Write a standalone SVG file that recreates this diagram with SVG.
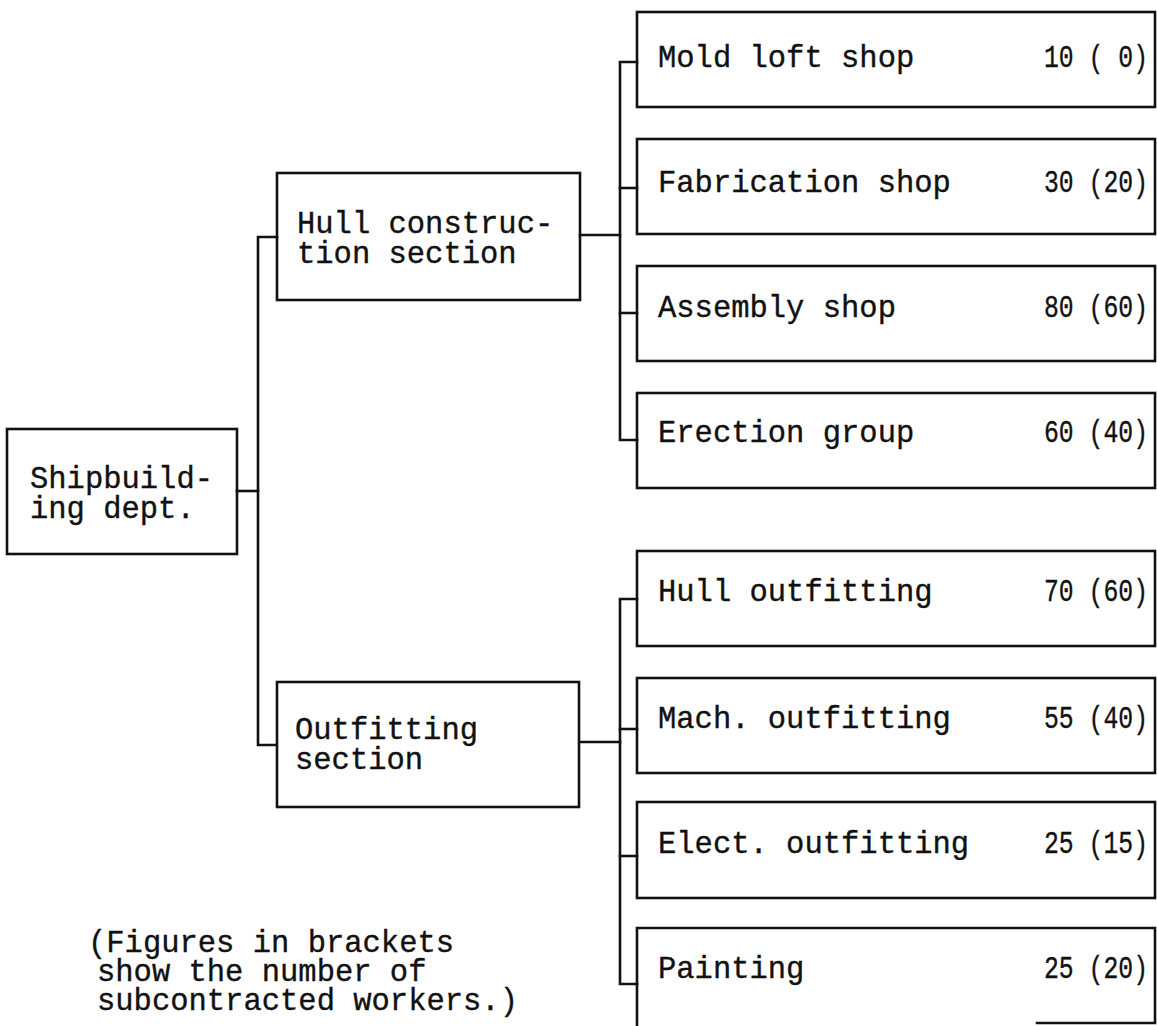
<svg xmlns="http://www.w3.org/2000/svg" width="1157" height="1026" viewBox="0 0 1157 1026">
<style>
.box{fill:none;stroke:#111;stroke-width:2.6}
.ln{fill:none;stroke:#111;stroke-width:2.6;stroke-linecap:square}
text{font-family:"Liberation Mono","DejaVu Sans Mono",monospace;font-size:30.5px;fill:#111;stroke:#111;stroke-width:0.35}
</style>
<rect width="1157" height="1026" fill="#fff"/>
<g id="connectors">
<polyline class="ln" points="237,491 258,491"/>
<polyline class="ln" points="277,237 258,237 258,745 276,745"/>
<polyline class="ln" points="580,235 620,235"/>
<polyline class="ln" points="637,62 620,62 620,440 637,440"/>
<polyline class="ln" points="620,188 637,188"/>
<polyline class="ln" points="620,313 637,313"/>
<polyline class="ln" points="580,742 620,742"/>
<polyline class="ln" points="637,599 620,599 620,984 637,984"/>
<polyline class="ln" points="620,729 637,729"/>
<polyline class="ln" points="620,856 637,856"/>
</g>
<g id="shipbuilding">
<rect class="box" x="7" y="429" width="230" height="125"/>
<text x="30" y="488">Shipbuild-</text>
<text x="30" y="518">ing dept.</text>
</g>
<g id="hull-construction">
<rect class="box" x="277" y="173" width="303" height="127"/>
<text x="297" y="233">Hull construc-</text>
<text x="297" y="263">tion section</text>
</g>
<g id="outfitting">
<rect class="box" x="277" y="682" width="302" height="125"/>
<text x="295" y="739">Outfitting</text>
<text x="295" y="769">section</text>
</g>
<g id="mold-loft">
<rect class="box" x="637" y="12" width="518" height="95"/>
<text x="658" y="67">Mold loft shop</text>
<text x="1044" y="67" textLength="104" lengthAdjust="spacingAndGlyphs">10 ( 0)</text>
</g>
<g id="fabrication">
<rect class="box" x="637" y="139" width="518" height="95"/>
<text x="658" y="192">Fabrication shop</text>
<text x="1044" y="192" textLength="104" lengthAdjust="spacingAndGlyphs">30 (20)</text>
</g>
<g id="assembly">
<rect class="box" x="637" y="266" width="518" height="95"/>
<text x="658" y="317">Assembly shop</text>
<text x="1044" y="317" textLength="104" lengthAdjust="spacingAndGlyphs">80 (60)</text>
</g>
<g id="erection">
<rect class="box" x="637" y="393" width="518" height="95"/>
<text x="658" y="442">Erection group</text>
<text x="1044" y="442" textLength="104" lengthAdjust="spacingAndGlyphs">60 (40)</text>
</g>
<g id="hull-outfitting">
<rect class="box" x="637" y="551" width="518" height="95"/>
<text x="658" y="601">Hull outfitting</text>
<text x="1044" y="601" textLength="104" lengthAdjust="spacingAndGlyphs">70 (60)</text>
</g>
<g id="mach-outfitting">
<rect class="box" x="637" y="678" width="518" height="95"/>
<text x="658" y="728">Mach. outfitting</text>
<text x="1044" y="728" textLength="104" lengthAdjust="spacingAndGlyphs">55 (40)</text>
</g>
<g id="elect-outfitting">
<rect class="box" x="637" y="802" width="518" height="96"/>
<text x="658" y="853">Elect. outfitting</text>
<text x="1044" y="853" textLength="104" lengthAdjust="spacingAndGlyphs">25 (15)</text>
</g>
<g id="painting">
<polyline class="ln" points="637,1030 637,928 1155,928 1155,1023 1037,1023"/>
<text x="658" y="978">Painting</text>
<text x="1044" y="978" textLength="104" lengthAdjust="spacingAndGlyphs">25 (20)</text>
</g>
<g id="note">
<text x="88" y="952">(Figures in brackets</text>
<text x="97" y="981">show the number of</text>
<text x="97" y="1010">subcontracted workers.)</text>
</g>
</svg>
